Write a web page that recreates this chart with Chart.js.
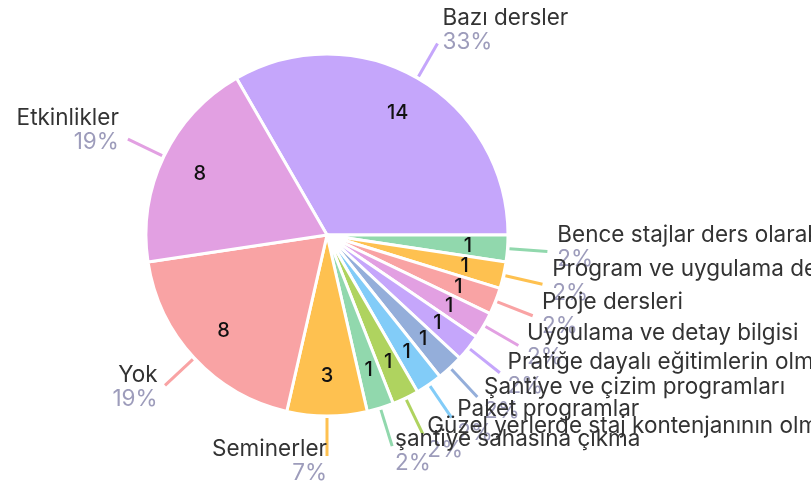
<!DOCTYPE html>
<html><head><meta charset="utf-8">
<script src="https://cdn.jsdelivr.net/npm/chart.js@4.4.0/dist/chart.umd.min.js"></script>
<style>html,body{margin:0;padding:0;background:#fff;overflow:hidden}#wrap{width:811px;height:488px;position:relative}</style>
</head><body><div id="wrap"><canvas id="c" width="811" height="488"></canvas></div>
<script>
const categories = [
  'Bazı dersler',
  'Bence stajlar ders olarak verilmeli',
  'Program ve uygulama dersleri',
  'Proje dersleri',
  'Uygulama ve detay bilgisi',
  'Pratiğe dayalı eğitimlerin olması',
  'Şantiye ve çizim programları',
  'Paket programlar',
  'Güzel yerlerde staj kontenjanının olması',
  'şantiye sahasına çıkma',
  'Seminerler',
  'Yok',
  'Etkinlikler'
];
const counts = [14, 1, 1, 1, 1, 1, 1, 1, 1, 1, 3, 8, 8];
const percentLabels = ['33%', '2%', '2%', '2%', '2%', '2%', '2%', '2%', '2%', '2%', '7%', '19%', '19%'];
const sliceColors = ['#c5a6fb', '#91d8ad', '#fec150', '#f9a3a4', '#e2a0e2', '#c5a6fb', '#94aeda', '#82ccf8', '#afd35f', '#91d8ad', '#fec150', '#f9a3a4', '#e2a0e2'];

const FONT = 'Inter, "Open Sans", sans-serif';

const outLabels = {
  id: 'outLabels',
  afterDatasetsDraw(chart) {
    const ctx = chart.ctx;
    const meta = chart.getDatasetMeta(0);
    ctx.save();
    const items = meta.data.map((arc, i) => {
      const p = arc.getProps(['x', 'y', 'startAngle', 'endAngle', 'outerRadius'], true);
      const a = (p.startAngle + p.endAngle) / 2;
      return {i, x: p.x, y: p.y, r: p.outerRadius, c: Math.cos(a), s: Math.sin(a)};
    });
    // leader lines
    items.forEach(o => {
      ctx.strokeStyle = sliceColors[o.i];
      ctx.lineWidth = 3;
      ctx.beginPath();
      ctx.moveTo(o.x + o.c * (o.r + 2), o.y + o.s * (o.r + 2));
      ctx.lineTo(o.x + o.c * (o.r + 40), o.y + o.s * (o.r + 40));
      ctx.stroke();
    });
    // values inside
    ctx.fillStyle = '#111';
    ctx.font = '500 20px ' + FONT;
    ctx.textAlign = 'center';
    ctx.textBaseline = 'middle';
    items.forEach(o => {
      ctx.fillText(String(counts[o.i]), o.x + o.c * o.r * 0.78, o.y + o.s * o.r * 0.78);
    });
    // outer labels
    items.forEach(o => {
      const px = o.x + o.c * (o.r + 50);
      const py = o.y + o.s * (o.r + 50) - 5;
      ctx.textAlign = o.c > 0.01 ? 'left' : 'right';
      ctx.textBaseline = 'middle';
      ctx.font = '22.5px ' + FONT;
      ctx.fillStyle = '#333333';
      ctx.fillText(categories[o.i], px, py - 12);
      ctx.fillStyle = '#9d9cbb';
      ctx.fillText(percentLabels[o.i], px, py + 12);
    });
    ctx.restore();
  }
};

new Chart(document.getElementById('c'), {
  type: 'pie',
  data: {
    labels: categories,
    datasets: [{
      data: counts,
      backgroundColor: sliceColors,
      borderColor: '#ffffff',
      borderWidth: 3
    }]
  },
  options: {
    responsive: false,
    animation: false,
    rotation: -30,
    radius: 181,
    layout: {padding: {left: 0, right: 157, top: 0, bottom: 18}},
    plugins: {legend: {display: false}, tooltip: {enabled: false}}
  },
  plugins: [outLabels]
});
</script></body></html>
